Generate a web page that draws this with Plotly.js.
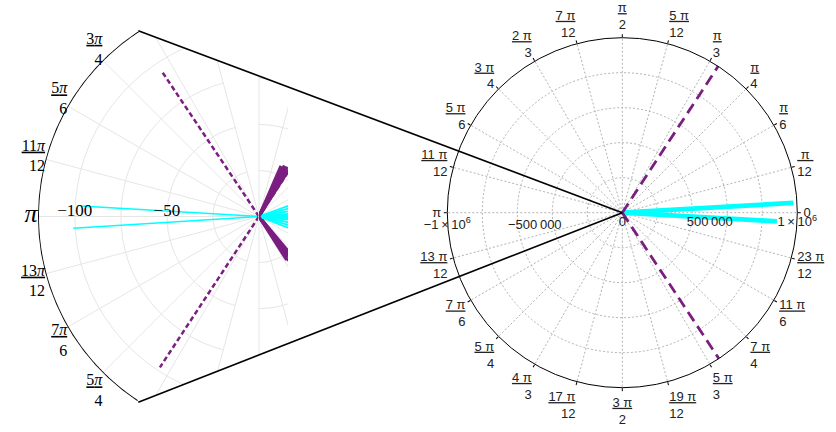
<!DOCTYPE html>
<html><head><meta charset="utf-8">
<script src="https://cdn.plot.ly/plotly-3.0.1.min.js"></script>
<style>html,body{margin:0;padding:0;background:#fff}#chart{width:836px;height:432px}</style>
</head><body><div id="chart"></div>
<script>
// ---- data (angles in degrees, radii in data units) ----
const cyanTheta = [3.3, -3.2, 176.6, 183.6, 20, 15, 10, 5, 0, -6, -11, -16, -21];
const cyanR     = [980000, 885000, 97, 101, 40, 40, 40, 40, 40, 40, 40, 40, 40];
const dashTheta = [56.8, -56.5, 123.8, 236.7];
const dashR     = [1000000, 1000000, 94, 98];
const clusterTheta = [57.5, 59, 60.5, 62, 63.5, 65, 66.5, -50, -51.5, -53, -54.5, -56, -57.5];
const clusterR     = [30, 29, 31, 30, 31, 29, 30, 27, 26, 28, 27, 26, 28];

// angular tick labels
const rightTickVals = [0,15,30,45,60,75,90,105,120,135,150,165,180,195,210,225,240,255,270,285,300,315,330,345];
const rightNum = ['0','π','π','π','π','5 π','π','7 π','2 π','3 π','5 π','11 π','π','13 π','7 π','5 π','4 π','17 π','3 π','19 π','5 π','7 π','11 π','23 π'];
const rightDen = ['','12','6','4','3','12','2','12','3','4','6','12','','12','6','4','3','12','2','12','3','4','6','12'];
const leftTickVals = [105,120,135,150,165,180,195,210,225,240,255];
const leftNum = [null,null,'3','5','11','','13','7','5',null,null];
const leftDen = [null,null,'4','6','12','','12','6','4',null,null];
const leftSector = [123.1, 236.9];           // visible arc of the zoomed view
const leftRadialVals = [25,50,75,100];
const leftRadialText = ['','−50','','−100'];
const rightRadialPos = [0, 500000, 1000000];
const rightRadialPosText = ['0','500\u2009000','1\u2009×\u200910<sup>6</sup>'];
const rightRadialNeg = [500000, 1000000];
const rightRadialNegText = ['−500\u2009000','−1\u2009×\u200910<sup>6</sup>'];

function rays(thetas, radii){
  const r=[], t=[];
  thetas.forEach((th,i)=>{ r.push(0, radii[i], null); t.push(th, th, null); });
  return {r:r, theta:t};
}
function wid(s){ return [...s].reduce((a,c)=>a+(c===' '||c==='\u00a0'?0.28:0.56),0); }
function fracR(n,d){
  if(!d) return n;
  let num=n;
  while(wid(num) < wid(d)-0.3) num='\u00a0'+num+'\u00a0';
  return '<u>'+num+'</u><br>'+d;
}
function fracL(n,d){
  if(n===null) return ' ';
  if(!d) return '<span style="font-size:26px"><i>π</i></span>';
  return '<u>'+n+'<i>π</i></u><br>'+d;
}

// frame arc of the zoomed (left) view
const arcT=[], arcR=[];
for(let a=leftSector[0]; a<=leftSector[1]+1e-9; a+=0.5){ arcT.push(a); arcR.push(120); }

const CY='#00ffff', PU='#7a1e80';
const c = rays(cyanTheta, cyanR), dsh = rays(dashTheta, dashR), cl = rays(clusterTheta, clusterR);
function tr(d, sub, color, width, dash){
  return {type:'scatterpolar', mode:'lines', subplot:sub, r:d.r, theta:d.theta, cliponaxis:true,
    line:{color:color, width:width, dash:dash||'solid'}, hoverinfo:'skip', showlegend:false};
}
const data = [
  tr(c,'polar',CY,1.5), tr(dsh,'polar',PU,2.5,'5px,3px'),
  {type:'scatterpolar', mode:'lines', subplot:'polar', r:arcR, theta:arcT, cliponaxis:false,
   line:{color:'#000', width:2}, hoverinfo:'skip', showlegend:false},
  tr(cl,'polar3',PU,3.2), tr(c,'polar3',CY,1.8), tr(dsh,'polar3',PU,2.5,'5px,3px'),
  tr(cl,'polar2',PU,2.5), tr(c,'polar2',CY,4.8), tr(dsh,'polar2',PU,2.8,'11px,6px'),
  {type:'scatterpolar', mode:'lines', subplot:'polar4', r:[], theta:[], hoverinfo:'skip', showlegend:false},
  {type:'scatterpolar', mode:'lines', subplot:'polar5', r:[], theta:[], hoverinfo:'skip', showlegend:false}
];

const GL='#e6e6e6', GR='#b3b3b3', TR='rgba(0,0,0,0)';
const hiddenAng = {showline:false, showgrid:false, showticklabels:false, ticks:''};
const RDOM = {x:[0.53505,0.95371], y:[0.10255,0.91273]};
const layout = {
  width:836, height:432, margin:{l:0,r:0,t:0,b:0}, paper_bgcolor:'#fff', plot_bgcolor:'#fff', showlegend:false,
  polar:{
    domain:{x:[0.04545,0.30981], y:[0.00463,0.99306]}, sector:[105,255], bgcolor:TR,
    angularaxis:{tickvals:leftTickVals, ticktext:leftNum.map((n,i)=>fracL(n,leftDen[i])),
      showline:false, ticks:'', gridcolor:GL,
      tickfont:{family:'Liberation Serif', size:16, color:'#000'}},
    radialaxis:{range:[0,120], angle:180, tickvals:leftRadialVals, ticktext:leftRadialText,
      showline:false, ticks:'', gridcolor:GL, tickfont:{family:'Liberation Serif', size:17, color:'#000'}}
  },
  polar3:{
    domain:{x:[0.30981,0.48604], y:[0.15780,0.83988]}, sector:[-90,90], bgcolor:TR,
    angularaxis:{tickvals:[-90,-75,-60,-45,-30,-15,0,15,30,45,60,75,90], showline:false, ticks:'',
      showticklabels:false, gridcolor:GL},
    radialaxis:{range:[0,80], tickvals:[25,50,75], showline:false, ticks:'', showticklabels:false, gridcolor:GL}
  },
  polar2:{
    domain:RDOM, bgcolor:TR,
    angularaxis:{tickvals:rightTickVals, ticktext:rightNum.map((n,i)=>fracR(n,rightDen[i])),
      showline:true, linecolor:'#000', linewidth:1, ticks:'outside', ticklen:3, tickcolor:'#000',
      gridcolor:GR, griddash:'2px,2px', tickfont:{family:'Liberation Sans', size:13, color:'#222'}},
    radialaxis:{range:[0,1000000], dtick:200000, showticklabels:false, showline:false, ticks:'',
      gridcolor:GR, griddash:'2px,2px'}
  },
  polar4:{
    domain:RDOM, bgcolor:TR, angularaxis:hiddenAng,
    radialaxis:{range:[0,1000000], angle:0, tickvals:rightRadialPos, ticktext:rightRadialPosText,
      showline:false, showgrid:false, ticks:'', tickfont:{family:'Liberation Sans', size:13, color:'#222'}}
  },
  polar5:{
    domain:RDOM, bgcolor:TR, angularaxis:hiddenAng,
    radialaxis:{range:[0,1000000], angle:180, side:'counterclockwise', tickangle:180,
      tickvals:rightRadialNeg, ticktext:rightRadialNegText,
      showline:false, showgrid:false, ticks:'', tickfont:{family:'Liberation Sans', size:13, color:'#222'}}
  },
  shapes:[
    // white masks clipping the zoomed view to its frame
    {type:'rect', xref:'paper', yref:'paper', x0:0.3445, x1:0.4905, y0:0.145, y1:0.852,
     fillcolor:'#fff', line:{width:0}, layer:'above'},
    {type:'path', xref:'paper', yref:'paper', path:'M0.16543,0.92894 L0.16543,1 L0.41268,1 L0.41268,0.74907 Z',
     fillcolor:'#fff', line:{width:0}, layer:'above'},
    {type:'path', xref:'paper', yref:'paper', path:'M0.16543,0.06875 L0.16543,0 L0.41268,0 L0.41268,0.25625 Z',
     fillcolor:'#fff', line:{width:0}, layer:'above'},
    // connector lines
    {type:'line', xref:'paper', yref:'paper', x0:0.16543, y0:0.92894, x1:0.74438, y1:0.50764,
     line:{color:'#000', width:1.6}, layer:'above'},
    {type:'line', xref:'paper', yref:'paper', x0:0.16543, y0:0.06875, x1:0.74438, y1:0.50764,
     line:{color:'#000', width:1.6}, layer:'above'}
  ]
};
Plotly.newPlot('chart', data, layout, {staticPlot:true, displayModeBar:false});
</script></body></html>
